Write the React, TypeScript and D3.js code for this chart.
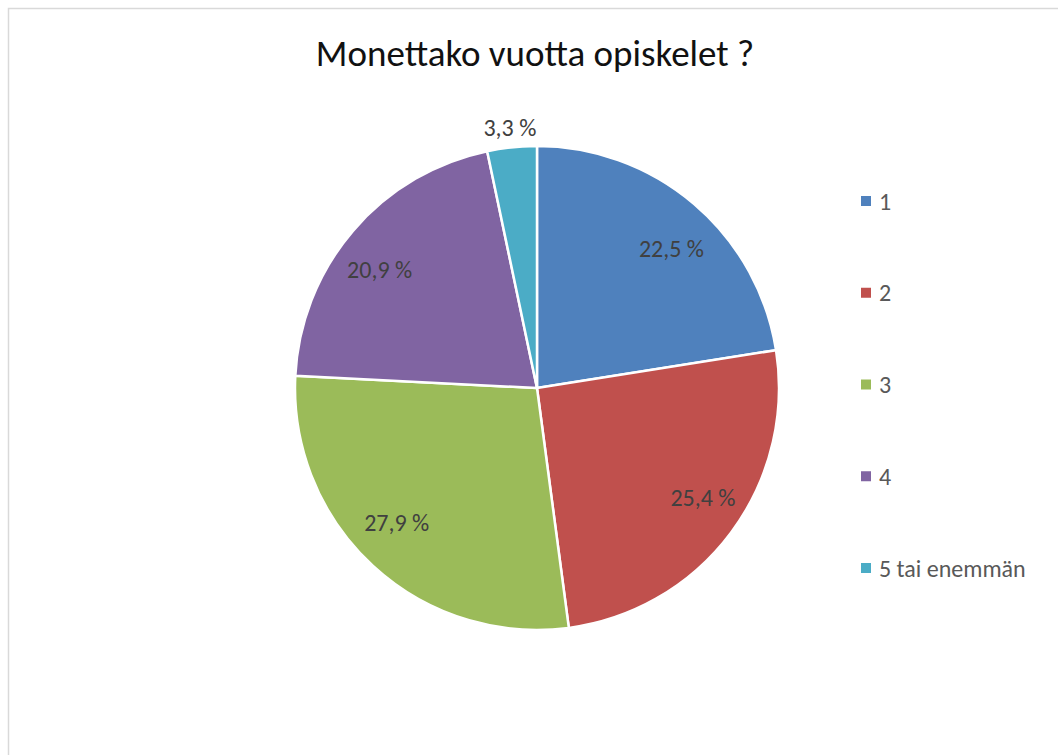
import React from "react";
import * as d3 from "d3";

const categories = ["1", "2", "3", "4", "5 tai enemmän"];
const values = [22.5, 25.4, 27.9, 20.9, 3.3];
const labels = ["22,5 %", "25,4 %", "27,9 %", "20,9 %", "3,3 %"];
const colors = ["#4F81BD", "#C0504D", "#9BBB59", "#8064A2", "#4BACC6"];

const W = 1058;
const H = 755;
const cx = 537;
const cy = 388;
const R = 242;
const FONT = "Calibri, Carlito, Lato, sans-serif";

export default function App() {
  const pie = d3.pie<number>().sort(null).value((d) => d);
  const arcs = pie(values);
  const arc = d3.arc<d3.PieArcDatum<number>>().innerRadius(0).outerRadius(R);
  // labels sit on a slightly wide ellipse (text boxes are wider than tall)
  const labelArc = d3.arc<d3.PieArcDatum<number>>().innerRadius(196).outerRadius(196);
  const outArc = d3.arc<d3.PieArcDatum<number>>().innerRadius(262).outerRadius(262);

  const legendY = d3.scalePoint<string>().domain(categories).range([201, 568]);

  return (
    <svg width={W} height={H} style={{ position: "absolute", left: 0, top: 0 }}>
      <rect x={0} y={0} width={W} height={H} fill="#fff" />
      <rect x={8.5} y={8.5} width={W + 20} height={H + 20} fill="#fff" stroke="#d9d9d9" strokeWidth={1.5} />
      <text x={535} y={66} textAnchor="middle" fontFamily={FONT} fontSize={37} fill="#111">
        Monettako vuotta opiskelet ?
      </text>
      <g transform={`translate(${cx},${cy})`}>
        {arcs.map((a, i) => (
          <path key={i} d={arc(a) || ""} fill={colors[i]} stroke="#fff" strokeWidth={2.5} strokeLinejoin="round" />
        ))}
        {arcs.map((a, i) => {
          let x: number, y: number;
          if (a.value < 5) {
            [x, y] = outArc.centroid(a);
          } else {
            const c = labelArc.centroid(a);
            x = c[0] * (207 / 196);
            y = c[1] * (183 / 196);
          }
          return (
            <text key={i} x={x} y={y} textAnchor="middle" dominantBaseline="central" fontFamily={FONT} fontSize={24} fill="#404040">
              {labels[i]}
            </text>
          );
        })}
      </g>
      {categories.map((c, i) => (
        <g key={c} transform={`translate(861,${legendY(c)})`}>
          <rect x={0} y={-5} width={10} height={10} fill={colors[i]} />
          <text x={18} y={0} dominantBaseline="central" fontFamily={FONT} fontSize={24} fill="#595959">
            {c}
          </text>
        </g>
      ))}
    </svg>
  );
}
